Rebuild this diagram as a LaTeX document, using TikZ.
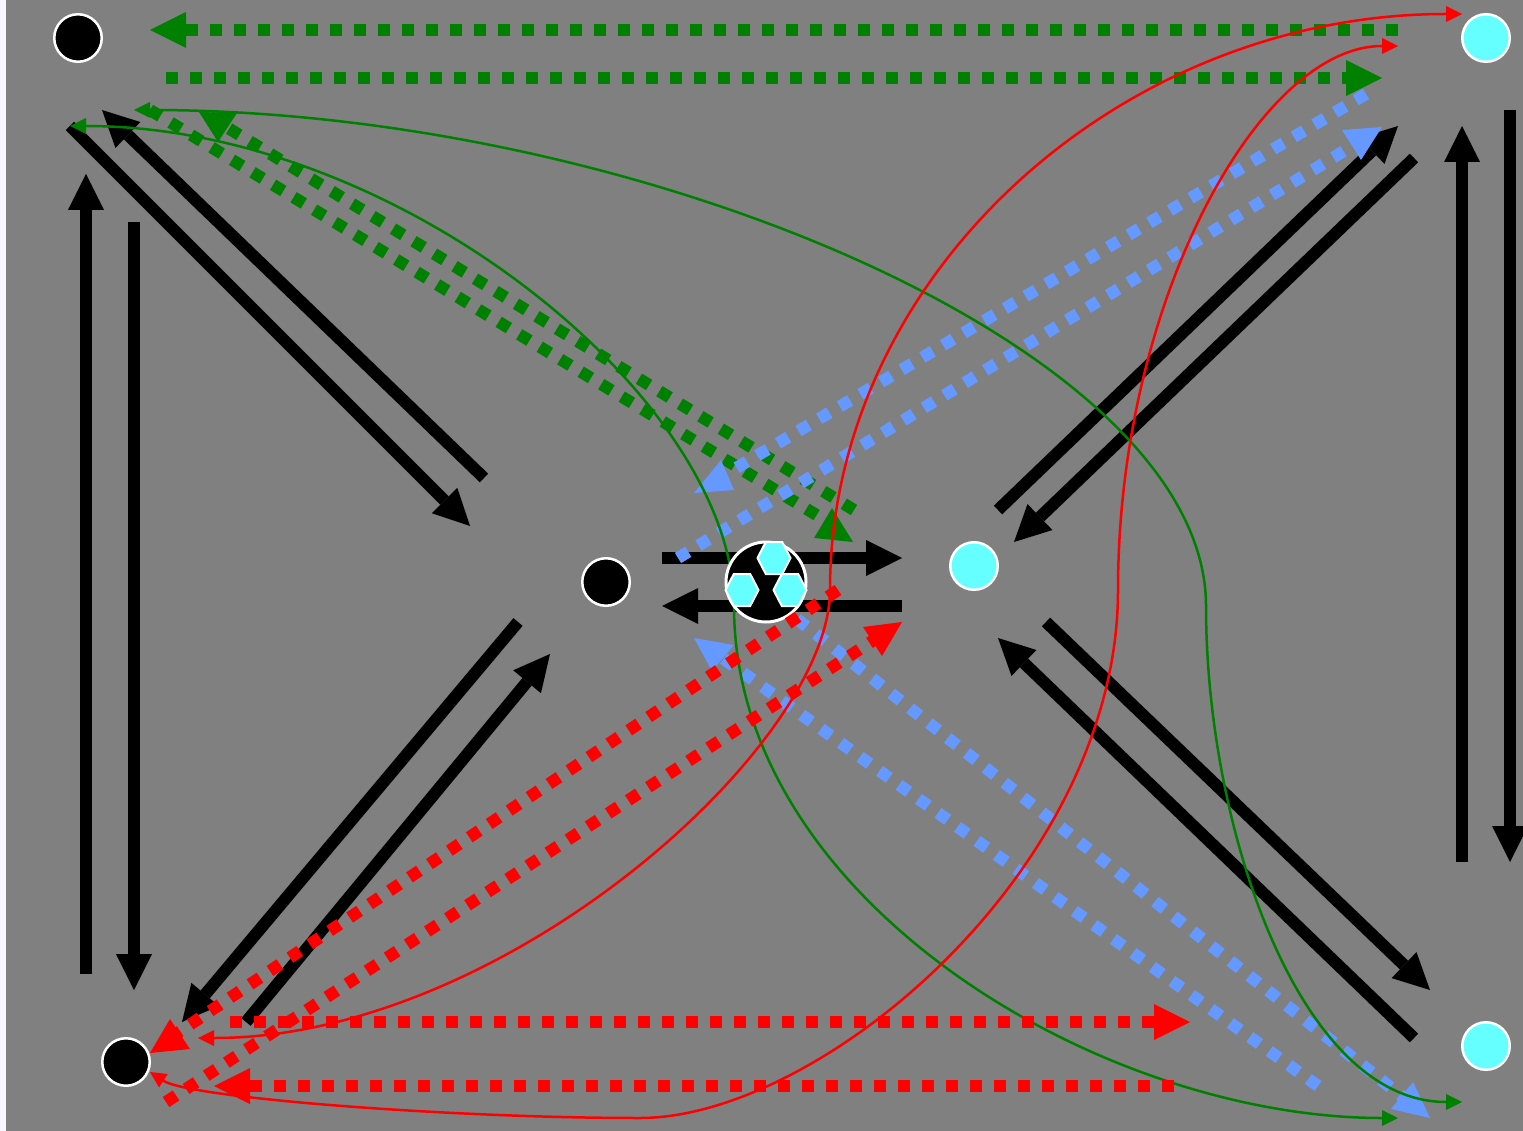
\documentclass[tikz,border=0pt]{standalone}
\usetikzlibrary{arrows.meta}
\definecolor{bgg}{HTML}{808080}
\definecolor{gr}{HTML}{008000}
\definecolor{bl}{HTML}{6699FF}
\definecolor{rd}{HTML}{FF0000}
\definecolor{cy}{HTML}{66FFFF}
\definecolor{edgec}{HTML}{F8F6FF}
\tikzset{
 heavy/.style={line width=12pt,draw=black,-{Triangle[length=36pt,width=36pt,line width=0pt]}},
 dotg/.style={line width=12pt,draw=gr,dash pattern=on 12pt off 12pt},
 dotb/.style={line width=12pt,draw=bl,dash pattern=on 12pt off 12pt},
 dotr/.style={line width=12pt,draw=rd,dash pattern=on 12pt off 12pt},
 bigtip/.style={-{Triangle[length=36pt,width=36pt,line width=0pt]}},
 thing/.style={line width=2.5pt,-{Triangle[length=16pt,width=16pt,line width=0pt]}},
 thinr/.style={thing,draw=rd},
 thinga/.style={thing,draw=gr},
 spot/.style={circle,draw=white,line width=2.5pt,minimum size=47.5pt,inner sep=0pt},
 hub/.style={circle,draw=white,fill=black,line width=3pt,minimum size=80pt,inner sep=0pt},
}
\newcommand{\hexa}[2]{\draw[fill=cy,draw=white,line width=2pt] (#1-16.5,#2) -- (#1-8.2,#2-16) -- (#1+8.2,#2-16) -- (#1+16.5,#2) -- (#1+8.2,#2+16) -- (#1-8.2,#2+16) -- cycle;}
\begin{document}
\begin{tikzpicture}[x=1pt,y=-1pt]
\useasboundingbox (0,0) rectangle (1523,1131);
\fill[edgec] (0,0) rectangle (1523,1131);
\fill[bgg] (6,0) rectangle (1523,1131);
% end points
\coordinate (a1) at (86,974); \coordinate (a2) at (86,174);
\coordinate (b1) at (134,222); \coordinate (b2) at (134,990);
\coordinate (c1) at (484,478); \coordinate (c2) at (102,110);
\coordinate (d1) at (70,126); \coordinate (d2) at (470,526);
\coordinate (e1) at (998,510); \coordinate (e2) at (1398,126);
\coordinate (f1) at (1414,158); \coordinate (f2) at (1014,542);
\coordinate (g1) at (1462,862); \coordinate (g2) at (1462,126);
\coordinate (h1) at (1510,110); \coordinate (h2) at (1510,862);
\coordinate (i1) at (662,558); \coordinate (i2) at (902,558);
\coordinate (j1) at (902,606); \coordinate (j2) at (662,606);
\coordinate (k1) at (518,622); \coordinate (k2) at (182,1022);
\coordinate (l1) at (246,1022); \coordinate (l2) at (550,654);
\coordinate (m1) at (1046,622); \coordinate (m2) at (1430,990);
\coordinate (n1) at (1414,1038); \coordinate (n2) at (998,638);
% black
\foreach \p in {a,b,c,d,e,f,g,h,i,j,k,l,m,n} \draw[heavy] (\p1) -- (\p2);
% green dotted
\coordinate (ga1) at (1398,30); \coordinate (ga2) at (150,30);
\coordinate (gb1) at (166,78); \coordinate (gb2) at (1382,78);
\coordinate (gc1) at (854,510); \coordinate (gc2) at (210,117);
\coordinate (gd1) at (150,110); \coordinate (gd2) at (828,522);
\draw[dotg,bigtip] (ga1) -- (ga2);
\draw[dotg,bigtip] (gb1) -- (gb2);
\draw[dotg] (gc1) -- (gc2);
\draw[dotg] (gd1) -- (gd2);
\fill[gr] (199,112) -- (237,113) -- (218,142) -- cycle;
\fill[gr] (832,508) -- (853,542) -- (814,538) -- cycle;
% blue dotted
\coordinate (ba1) at (678,558); \coordinate (ba2) at (1362,140);
\coordinate (bb1) at (1366,94); \coordinate (bb2) at (716,480);
\coordinate (bc1) at (797,619); \coordinate (bc2) at (1404,1098);
\coordinate (bd1) at (1318,1086); \coordinate (bd2) at (710,649);
\draw[dotb] (ba1) -- (ba2);
\draw[dotb] (bb1) -- (bb2);
\draw[dotb] (bc1) -- (bc2);
\draw[dotb] (bd1) -- (bd2);
\fill[bl] (1342,130) -- (1382,127) -- (1361,160) -- cycle;
\fill[bl] (694,493) -- (734,490) -- (721,460) -- cycle;
\fill[bl] (694,638) -- (734,645) -- (712,671) -- cycle;
\fill[bl] (1413,1082) -- (1391,1109) -- (1430,1118) -- cycle;
% green curves
\coordinate (q1) at (1462,1102); \coordinate (q2) at (134,110); \coordinate (q3) at (1206,606);
\draw[thinga] (q3) .. controls (1206,350) and (640,110) .. (q2);
\draw[thinga] (q3) .. controls (1206,830) and (1300,1102) .. (q1);
\coordinate (r1) at (70,126); \coordinate (r2) at (734,606); \coordinate (r3) at (1398,1118);
\draw[thinga] (r2) .. controls (734,400) and (400,126) .. (r1);
\draw[thinga] (r2) .. controls (734,900) and (1100,1118) .. (r3);
% red curves
\coordinate (s1) at (198,1038); \coordinate (s2) at (830,590); \coordinate (s3) at (1462,14);
\draw[thinr] (s2) .. controls (830,745) and (505,1038) .. (s1);
\draw[thinr] (s2) .. controls (830,275) and (1120,14) .. (s3);
\coordinate (t1) at (1398,46); \coordinate (t2) at (1118,590); \coordinate (t3) at (640,1118); \coordinate (t4) at (150,1072);
\draw[thinr] (t2) .. controls (1118,300) and (1260,46) .. (t1);
\draw[line width=2.5pt,draw=rd] (t2) .. controls (1118,870) and (820,1118) .. (t3);
\draw[thinr] (t3) .. controls (450,1118) and (190,1098) .. (t4);
% hub
\node[hub] (hubn) at (766,582) {};
\hexa{774}{558}
\hexa{742}{590}
\hexa{790}{590}
% red dotted
\coordinate (ra1) at (838,590); \coordinate (ra2) at (170,1038);
\coordinate (rb1) at (166,1102); \coordinate (rb2) at (880,636);
\coordinate (rc1) at (230,1022); \coordinate (rc2) at (1190,1022);
\coordinate (rd1) at (1174,1086); \coordinate (rd2) at (214,1086);
\draw[dotr] (ra1) -- (ra2);
\draw[dotr] (rb1) -- (rb2);
\draw[dotr,bigtip] (rc1) -- (rc2);
\draw[dotr,bigtip] (rd1) -- (rd2);
\fill[rd] (170,1019) -- (190,1049) -- (150,1053) -- cycle;
\fill[rd] (863,627) -- (902,622) -- (882,656) -- cycle;
% spots
\node[spot,fill=black] (n1s) at (78,38) {};
\node[spot,fill=black] (n2s) at (606,582) {};
\node[spot,fill=black] (n3s) at (126,1062) {};
\node[spot,fill=cy] (n4s) at (974,566) {};
\node[spot,fill=cy] (n5s) at (1486,38) {};
\node[spot,fill=cy] (n6s) at (1486,1046) {};
\end{tikzpicture}
\end{document}
